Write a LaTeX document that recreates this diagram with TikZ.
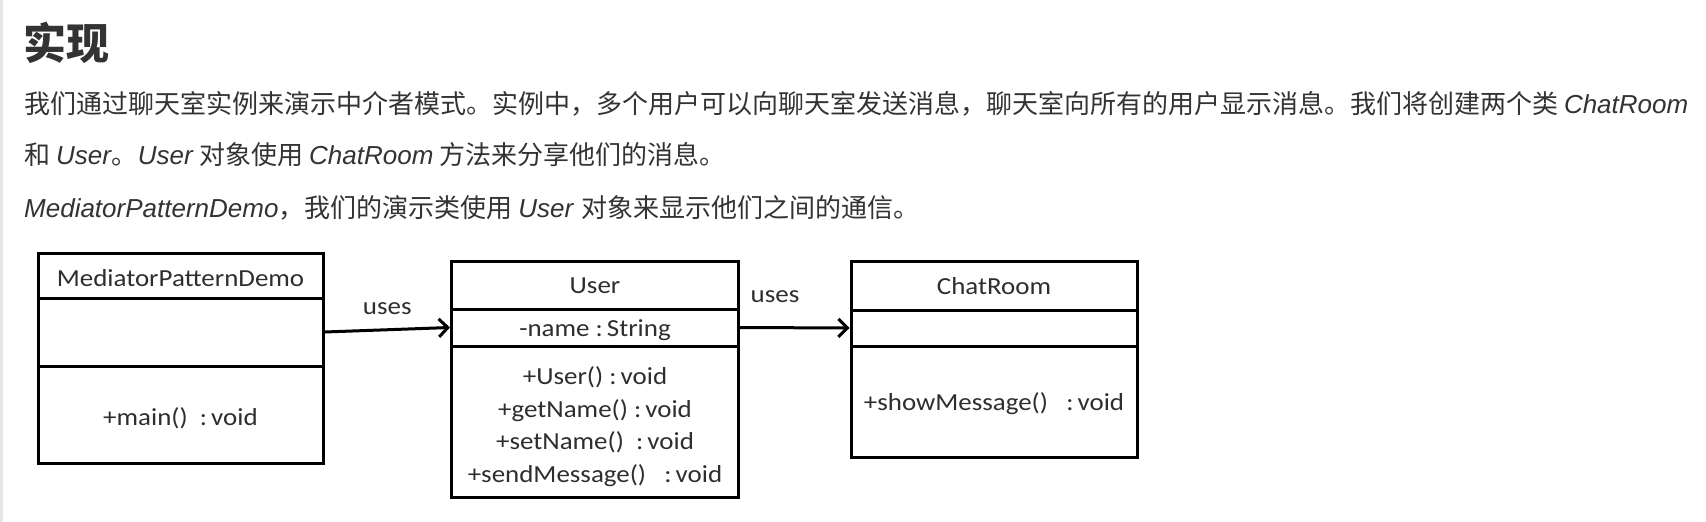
\documentclass[tikz,border=0pt]{standalone}
\usepackage{fontspec}
\setmainfont{Liberation Sans}
\newfontfamily\cjk{Noto Sans CJK SC}
\newfontfamily\umlfont[FakeStretch=1.1]{Carlito}
\usetikzlibrary{arrows.meta}
\definecolor{txt}{HTML}{333333}
\definecolor{umltxt}{HTML}{2E2E2E}
\definecolor{edge}{HTML}{E6E6E6}
\begin{document}
\begin{tikzpicture}[x=1pt,y=-1pt,
  para/.style={anchor=base west,inner sep=0pt,text=txt,font=\fontsize{26}{30}\selectfont},
  comp/.style={draw=black,line width=3pt,minimum width=#1,inner sep=0pt},
  ctext/.style={inner sep=0pt,text=umltxt,font=\umlfont\fontsize{24.5}{32.5}\selectfont,align=center},
  arr/.style={line width=3pt,-{Straight Barb[length=9pt,width=18pt,line width=3pt]}},
  lbl/.style={text=umltxt,font=\umlfont\fontsize{24.5}{28}\selectfont,inner sep=0pt}]
\useasboundingbox (0,0) rectangle (1706,522);
\fill[white] (0,0) rectangle (1706,522);
\fill[edge] (0,0) rectangle (3,522);
% texts
\node[para,font=\cjk\bfseries\fontsize{43}{48}\selectfont] (title) at (23,59) {实现};
\node[para] (l1) at (24,113) {\cjk 我们通过聊天室实例来演示中介者模式。实例中，多个用户可以向聊天室发送消息，聊天室向所有的用户显示消息。我们将创建两个类 \textit{\rmfamily ChatRoom}};
\node[para] (l2) at (24,164.5) {\cjk 和 \textit{\rmfamily User}。\textit{\rmfamily User} 对象使用 \textit{\rmfamily ChatRoom} 方法来分享他们的消息。};
\node[para] (l3) at (24,217) {\textit{MediatorPatternDemo}{\cjk ，我们的演示类使用 }\textit{User} {\cjk 对象来显示他们之间的通信。}};
% MediatorPatternDemo
\node[comp=285pt,minimum height=45pt] (mN) at (180.5,275.5) {};
\node[comp=285pt,minimum height=68pt] (mA) at (180.5,332) {};
\node[comp=285pt,minimum height=97pt] (mM) at (180.5,414.5) {};
\node[ctext] (mNt) at ([yshift=-3pt]mN.center) {MediatorPatternDemo};
\node[ctext] (mMt) at ([yshift=-4pt]mM.center) {+main()\ \ :\,void};
% User
\node[comp=287pt,minimum height=48pt] (uN) at (595,285) {};
\node[comp=287pt,minimum height=37pt] (uA) at (595,327.5) {};
\node[comp=287pt,minimum height=151pt] (uM) at (595,421.5) {};
\node[ctext] (uNt) at ([yshift=-1pt]uN.center) {User};
\node[ctext] (uAt) at ([yshift=-3pt]uA.center) {-name\ :\,String};
\node[ctext] (uMt) at ([yshift=-5pt]uM.center) {+User()\ :\,void\\[0pt]+getName()\ :\,void\\[0pt]+setName()\ \ :\,void\\[0pt]+sendMessage()\ \ \ :\,void};
% ChatRoom
\node[comp=286pt,minimum height=49pt] (cN) at (994,285.5) {};
\node[comp=286pt,minimum height=36pt] (cA) at (994,328) {};
\node[comp=286pt,minimum height=111pt] (cM) at (994,401.5) {};
\node[ctext] (cNt) at ([yshift=-1pt]cN.center) {ChatRoom};
\node[ctext] (cMt) at ([yshift=-2pt]cM.center) {+showMessage()\ \ \ :\,void};
% connectors
\draw[arr] (mA.east) -- (uA.west) node[lbl,pos=0.5,above=14pt] {uses};
\draw[arr] (uA.east) -- (cA.west) node[lbl,pos=0.32,above=23pt] {uses};
\end{tikzpicture}
\end{document}
